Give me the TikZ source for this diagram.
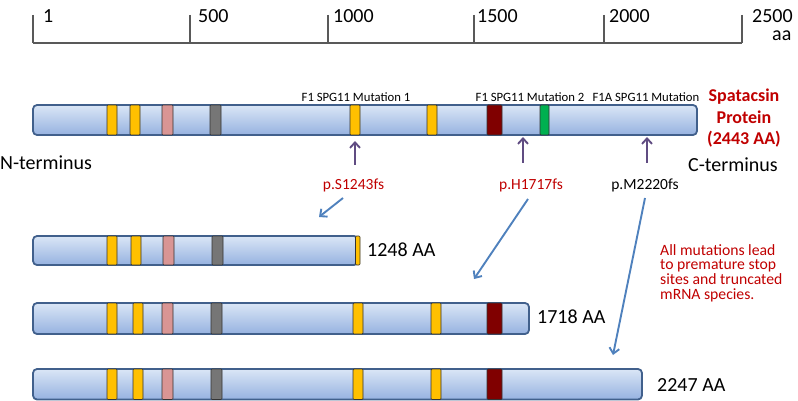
\documentclass[tikz,border=0pt]{standalone}
\usepackage{fontspec}
\setmainfont{Carlito}
\usetikzlibrary{arrows.meta}
\definecolor{barline}{RGB}{65,96,140}
\definecolor{bartop}{RGB}{218,230,246}
\definecolor{barbot}{RGB}{150,178,224}
\definecolor{dyellow}{RGB}{255,192,0}
\definecolor{dpink}{RGB}{217,149,148}
\definecolor{dgray}{RGB}{118,118,118}
\definecolor{ddred}{RGB}{128,0,0}
\definecolor{dgreen}{RGB}{0,176,80}
\definecolor{txtred}{RGB}{192,0,0}
\definecolor{purp}{RGB}{96,76,130}
\definecolor{blu}{RGB}{79,129,189}
\definecolor{rul}{RGB}{89,89,89}
\tikzset{
  protbar/.style={draw=barline, line width=1.8pt, rounded corners=4pt, top color=bartop, bottom color=barbot},
  dom/.style={draw=black!80, line width=0.7pt, rounded corners=1pt},
  tick/.style={draw=rul, line width=1.5pt},
  lab/.style={inner sep=0pt, font=\fontsize{20}{24}\selectfont},
  small/.style={inner sep=0pt, font=\fontsize{12.7}{15}\selectfont},
  mut/.style={inner sep=0pt, font=\fontsize{15.5}{18}\selectfont},
  uparr/.style={draw=purp, line width=1.9pt, -{Straight Barb[length=5.5pt,width=10pt]}},
  dnarr/.style={draw=blu, line width=1.9pt, -{Straight Barb[length=5.5pt,width=10pt]}},
}
\newcommand{\yd}[3]{\draw[dom, fill=dyellow] (#1,#2) rectangle (#1+10,#3);}
\newcommand{\pd}[3]{\draw[dom, fill=dpink] (#1,#2) rectangle (#1+11,#3);}
\newcommand{\gd}[3]{\draw[dom, fill=dgray] (#1,#2) rectangle (#1+11,#3);}
\newcommand{\rd}[3]{\draw[dom, fill=ddred] (#1,#2) rectangle (#1+15,#3);}
\newcommand{\grd}[3]{\draw[dom, fill=dgreen] (#1,#2) rectangle (#1+9,#3);}
\begin{document}
\begin{tikzpicture}[x=1pt,y=-1pt]
\useasboundingbox (0,0) rectangle (798,401);
% ruler
\draw[tick] (33,43) -- (742,43);
\foreach \xx in {33,190,328,474,604,742} \draw[tick] (\xx,15) -- (\xx,43);
\node[lab, anchor=west] (r1) at (43,16) {1};
\node[lab, anchor=west] (r500) at (198,16) {500};
\node[lab, anchor=west] (r1000) at (333,16) {1000};
\node[lab, anchor=west] (r1500) at (477,16) {1500};
\node[lab, anchor=west] (r2000) at (609,16) {2000};
\node[lab, anchor=west] (r2500) at (752,16) {2500};
\node[lab, anchor=west] (raa) at (772,36) {aa};
% main bar
\draw[protbar] (33,105) rectangle (697,135);
\yd{107}{105}{135} \yd{130}{105}{135} \pd{162}{105}{135} \gd{210}{105}{135}
\yd{350}{105}{135} \yd{427}{105}{135} \rd{487}{105}{135} \grd{540}{105}{135}
\node[small] (m1) at (356,97) {F1 SPG11 Mutation 1};
\node[small] (m2) at (530,97) {F1 SPG11 Mutation 2};
\node[small] (m3) at (646,97) {F1A SPG11 Mutation};
\node[inner sep=0pt, anchor=north, align=center, text=txtred, font=\bfseries\fontsize{18}{21.5}\selectfont] (sp) at (744,89) {Spatacsin\\Protein\\(2443 AA)};
\node[lab, anchor=west] (nt) at (0,163) {N-terminus};
\node[lab, anchor=west] (ct) at (688,165) {C-terminus};
% purple arrows
\coordinate (a1s) at (355,165); \coordinate (a1e) at (355,141);
\coordinate (a2s) at (523,163); \coordinate (a2e) at (523,137);
\coordinate (a3s) at (647,163); \coordinate (a3e) at (647,137);
\draw[uparr] (a1s) -- (a1e);
\draw[uparr] (a2s) -- (a2e);
\draw[uparr] (a3s) -- (a3e);
\node[mut, text=txtred] (p1) at (353.5,185) {p.S1243fs};
\node[mut, text=txtred] (p2) at (531,185) {p.H1717fs};
\node[mut] (p3) at (645,185) {p.M2220fs};
% blue arrows
\coordinate (b1s) at (343,198); \coordinate (b1e) at (319,217);
\coordinate (b2s) at (528,199); \coordinate (b2e) at (474,279);
\coordinate (b3s) at (645,198); \coordinate (b3e) at (613,355);
\draw[dnarr] (b1s) -- (b1e);
\draw[dnarr] (b2s) -- (b2e);
\draw[dnarr] (b3s) -- (b3e);
\node[inner sep=0pt, anchor=north west, align=left, text=txtred, font=\fontsize{15.7}{14.8}\selectfont] (note) at (660,244) {All mutations lead\\to premature stop\\sites and truncated\\mRNA species.};
% bar A
\draw[protbar] (33,236) rectangle (358,265);
\yd{107}{236}{265} \yd{131}{236}{265} \pd{163}{236}{265} \gd{212}{236}{265}
\draw[dom, fill=dyellow] (355.5,236) rectangle (360,265);
\node[lab, anchor=west] (l1) at (367,250) {1248 AA};
% bar B
\draw[protbar] (33,303) rectangle (529,334);
\yd{107}{303}{334} \yd{133}{303}{334} \pd{162}{303}{334} \gd{211}{303}{334}
\yd{353}{303}{334} \yd{431}{303}{334} \rd{487}{303}{334}
\node[lab, anchor=west] (l2) at (537,317) {1718 AA};
% bar C
\draw[protbar] (33,369) rectangle (642,399.5);
\yd{107}{369}{399.5} \yd{133}{369}{399.5} \pd{162}{369}{399.5} \gd{211}{369}{399.5}
\yd{353}{369}{399.5} \yd{431}{369}{399.5} \rd{487}{369}{399.5}
\node[lab, anchor=west] (l3) at (657,385) {2247 AA};
\end{tikzpicture}
\end{document}
